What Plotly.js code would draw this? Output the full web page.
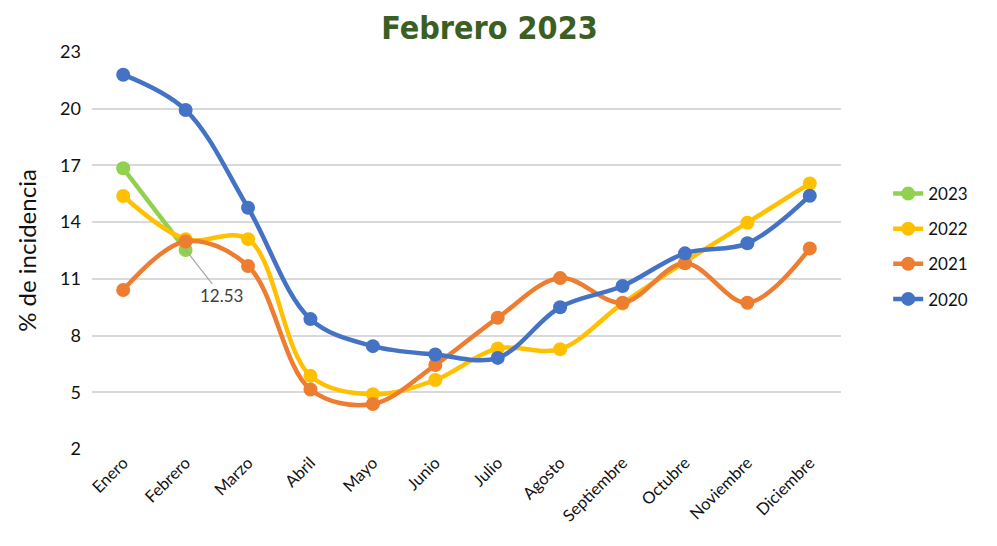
<!DOCTYPE html>
<html>
<head>
<meta charset="utf-8">
<script src="https://cdn.plot.ly/plotly-3.0.1.min.js"></script>
<style>html,body{margin:0;padding:0;background:#fff;}#chart{width:997px;height:546px;}</style>
</head>
<body>
<div id="chart"></div>
<script>
const months = ["Enero","Febrero","Marzo","Abril","Mayo","Junio","Julio","Agosto","Septiembre","Octubre","Noviembre","Diciembre"];
const yTicks = [2,5,8,11,14,17,20,23];
const v2023 = [16.85, 12.53];
const v2022 = [15.38, 13.1, 13.1, 5.87, 4.9, 5.65, 7.32, 7.28, 9.7, 11.9, 13.97, 16.05];
const v2021 = [10.41, 12.98, 11.68, 5.15, 4.38, 6.44, 8.94, 11.04, 9.74, 11.82, 9.74, 12.61];
const v2020 = [21.8, 19.93, 14.76, 8.87, 7.44, 7.0, 6.82, 9.5, 10.62, 12.35, 12.88, 15.4];
const seriesNames = ["2023","2022","2021","2020"];
const seriesColors = ["#92d050","#ffc000","#ed7d31","#4472c4"];
const seriesValues = [v2023, v2022, v2021, v2020];
const labelText = "12.53";

const font = "Lato, 'Open Sans', sans-serif";
const traces = seriesValues.map((vals, i) => ({
  type: "scatter",
  mode: "lines+markers",
  name: seriesNames[i],
  legendgroup: "g" + i,
  x: months.slice(0, vals.length),
  y: vals,
  line: {color: seriesColors[i], width: 4.5, shape: "spline", smoothing: 1},
  marker: {color: seriesColors[i], size: 14},
  hoverinfo: "x+y+name"
}));

const layout = {
  width: 997, height: 546,
  margin: {l: 92, r: 156, t: 52, b: 97},
  paper_bgcolor: "#fff", plot_bgcolor: "#fff",
  title: {
    text: "<b>Febrero 2023</b>",
    font: {family: "'Liberation Sans Narrow', 'DejaVu Sans Condensed', Lato, sans-serif", size: 32, color: "#3b5e23"},
    x: 0.491, xref: "container", xanchor: "center",
    y: 0.949, yref: "container", yanchor: "middle"
  },
  xaxis: {
    type: "category",
    tickangle: -45,
    tickfont: {family: font, size: 16.5, color: "#111"},
    showgrid: false, showline: false, zeroline: false, ticks: "",
    range: [-0.5, 11.5]
  },
  yaxis: {
    range: [2, 23],
    tickvals: yTicks,
    ticktext: yTicks.map(String),
    tickfont: {family: font, size: 18, color: "#111"},
    gridcolor: "#d9d9d9", gridwidth: 2,
    zeroline: false, showline: false, ticks: "",
    ticklen: 0, ticklabelstandoff: 10,
    title: {text: "% de incidencia", font: {family: font, size: 24, color: "#111"}, standoff: 16}
  },
  legend: {
    x: 1.063, xanchor: "left", y: 0.51, yanchor: "middle",
    font: {family: font, size: 17, color: "#111"},
    tracegroupgap: 10,
    traceorder: "grouped"
  },
  annotations: [{
    x: "Febrero", y: v2023[1], xref: "x", yref: "y",
    text: labelText, showarrow: true, arrowhead: 0, arrowwidth: 1.2, arrowcolor: "#a6a6a6",
    ax: 36, ay: 46, font: {family: font, size: 17, color: "#404040"}
  }],
  showlegend: true
};

Plotly.newPlot("chart", traces, layout, {displayModeBar: false, staticPlot: true});
</script>
</body>
</html>
